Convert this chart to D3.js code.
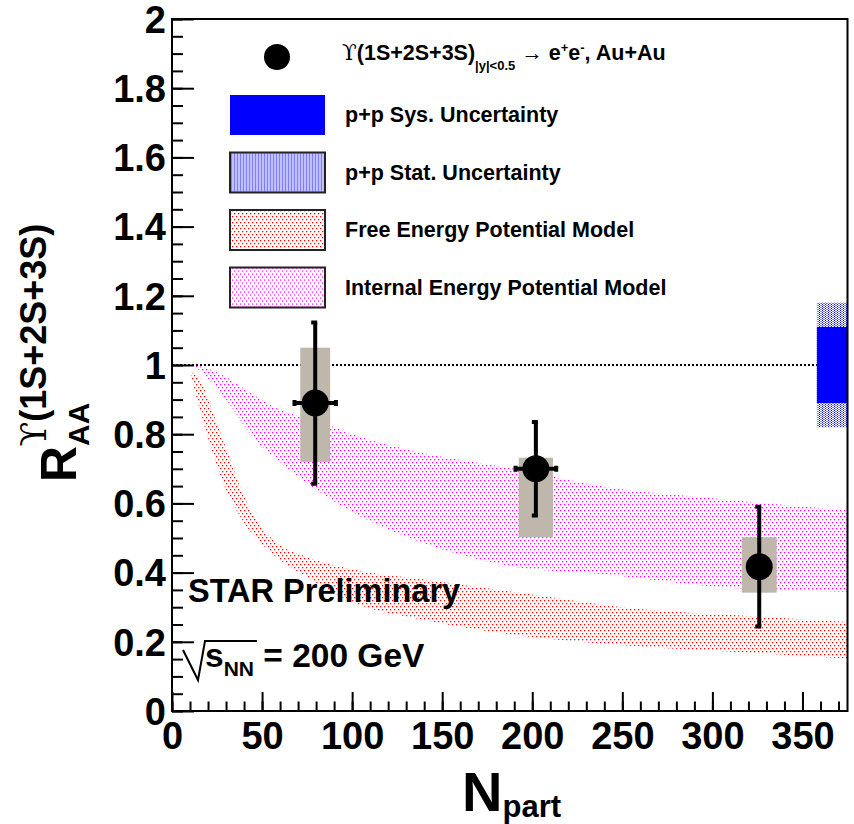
<!DOCTYPE html>
<html>
<head>
<meta charset="utf-8">
<script src="https://cdn.jsdelivr.net/npm/d3@7"></script>
<style>
	body { margin: 0; background: #fff; }
	svg { font-family: "Liberation Sans", Arial, sans-serif; font-weight: bold; }
	.ups { font-family: "DejaVu Serif", "DejaVu Sans", serif; font-weight: normal; }
</style>
</head>
<body>
<div id="chart"></div>
<script>
// data points (Npart, RAA) with stat and sys errors
const npart = [79.5, 202, 326];
const raa = [0.89, 0.70, 0.417];
const statErr = [0.233, 0.135, 0.173];
const sysUp = [0.16, 0.032, 0.085];
const sysDown = [0.17, 0.198, 0.075];
const npartErr = [11.5, 11.3, 6];
const boxHalf = [8.3, 9.5, 9.7];

// p+p normalisation uncertainties drawn at the right edge
const ppRange = [358, 375];
const ppSys = 0.11;
const ppStat = 0.18;

// model bands
const internalN = [12, 20, 30, 45, 60, 80, 100, 140, 190, 240, 300, 375];
const internalHi = [1.0, 0.99, 0.965, 0.915, 0.87, 0.84, 0.80, 0.745, 0.70, 0.648, 0.615, 0.58];
const internalLo = [1.0, 0.96, 0.90, 0.79, 0.72, 0.64, 0.575, 0.485, 0.417, 0.395, 0.36, 0.345];
const freeN = [10, 15, 20, 30, 40, 55, 75, 100, 140, 195, 250, 325, 375];
const freeHi = [0.98, 0.965, 0.90, 0.76, 0.62, 0.50, 0.445, 0.41, 0.38, 0.34, 0.30, 0.273, 0.257];
const freeLo = [0.98, 0.88, 0.79, 0.64, 0.545, 0.458, 0.387, 0.315, 0.263, 0.217, 0.19, 0.167, 0.152];

// axes
const xTicks = [0, 50, 100, 150, 200, 250, 300, 350];
const yTicks = [0, 0.2, 0.4, 0.6, 0.8, 1, 1.2, 1.4, 1.6, 1.8, 2];

const legendLabels = ["p+p Sys. Uncertainty", "p+p Stat. Uncertainty", "Free Energy Potential Model", "Internal Energy Potential Model"];
const legendFills = ["#0000ff", "url(#dotsBlue)", "url(#dotsRed)", "url(#dotsMagenta)"];

const W = 854, H = 824;
const margin = {top: 19, right: 6.5, bottom: 113, left: 172};

let svg = d3.select("#chart").append("svg")
	.attr("width", W)
	.attr("height", H);

let x = d3.scaleLinear([0, 375], [margin.left, W - margin.right]);
let y = d3.scaleLinear([0, 2], [H - margin.bottom, margin.top]);

// dotted fill patterns like ROOT fill styles
let defs = svg.append("defs");
function dots(id, color, w, h, s) {
	let p = defs.append("pattern")
		.attr("id", id)
		.attr("patternUnits", "userSpaceOnUse")
		.attr("width", w)
		.attr("height", h);
	p.append("rect").attr("x", 0).attr("y", 0).attr("width", s).attr("height", s).attr("fill", color);
	p.append("rect").attr("x", w / 2).attr("y", h / 2).attr("width", s).attr("height", s).attr("fill", color);
}
dots("dotsRed", "#ff0000", 4, 6, 1.3);
dots("dotsMagenta", "#ff00ff", 4, 6, 1.3);
dots("dotsBlue", "#0000ff", 3, 2, 1);

// model bands
let area = d3.area()
	.x(d => x(d[0]))
	.y0(d => y(d[1]))
	.y1(d => y(d[2]))
	.curve(d3.curveMonotoneX);
svg.append("path")
	.attr("fill", "url(#dotsMagenta)")
	.attr("d", area(internalN.map((n, i) => [n, internalLo[i], internalHi[i]])));
svg.append("path")
	.attr("fill", "url(#dotsRed)")
	.attr("d", area(freeN.map((n, i) => [n, freeLo[i], freeHi[i]])));

// unity line
svg.append("line")
	.attr("x1", x(0)).attr("x2", x(ppRange[0]))
	.attr("y1", y(1)).attr("y2", y(1))
	.attr("stroke", "black")
	.attr("stroke-width", 2)
	.attr("stroke-dasharray", "2,2");

// p+p boxes
svg.append("rect")
	.attr("x", x(ppRange[0])).attr("width", x(ppRange[1]) - x(ppRange[0]))
	.attr("y", y(1 + ppStat)).attr("height", y(1 - ppStat) - y(1 + ppStat))
	.attr("fill", "url(#dotsBlue)");
svg.append("rect")
	.attr("x", x(ppRange[0])).attr("width", x(ppRange[1]) - x(ppRange[0]))
	.attr("y", y(1 + ppSys)).attr("height", y(1 - ppSys) - y(1 + ppSys))
	.attr("fill", "#0000ff");

// systematic boxes
svg.append("g")
	.selectAll("rect")
	.data(npart)
	.join("rect")
	.attr("x", (d, i) => x(d - boxHalf[i]))
	.attr("width", (d, i) => x(d + boxHalf[i]) - x(d - boxHalf[i]))
	.attr("y", (d, i) => y(raa[i] + sysUp[i]))
	.attr("height", (d, i) => y(raa[i] - sysDown[i]) - y(raa[i] + sysUp[i]))
	.attr("fill", "#bfb7ab");

// error bars and markers
let pts = svg.append("g")
	.attr("stroke", "black")
	.attr("stroke-width", 4)
	.selectAll("g")
	.data(npart)
	.join("g");
pts.append("line")
	.attr("x1", d => x(d)).attr("x2", d => x(d))
	.attr("y1", (d, i) => y(raa[i] + statErr[i]))
	.attr("y2", (d, i) => y(raa[i] - statErr[i]));
pts.append("path")
	.attr("fill", "none")
	.attr("d", (d, i) => {
		let cx = x(d), t = y(raa[i] + statErr[i]), b = y(raa[i] - statErr[i]);
		return `M${cx - 4},${t}H${cx + 2}M${cx - 4},${b}H${cx + 2}`;
	});
pts.append("path")
	.attr("fill", "none")
	.attr("d", (d, i) => {
		let l = x(d - npartErr[i]), r = x(d + npartErr[i]), cy = y(raa[i]);
		return `M${l},${cy - 3}V${cy + 3}M${l},${cy}H${r}M${r},${cy - 3}V${cy + 3}`;
	});
pts.append("circle")
	.attr("cx", d => x(d))
	.attr("cy", (d, i) => y(raa[i]))
	.attr("r", 13.5)
	.attr("stroke", "none")
	.attr("fill", "black");

// axes: major and minor ticks point inwards
svg.append("g")
	.attr("transform", `translate(${margin.left},0)`)
	.call(d3.axisLeft(y).tickValues(d3.range(0, 2.001, 0.05)).tickSize(-11).tickFormat(""))
	.call(g => g.select(".domain").remove());
svg.append("g")
	.attr("transform", `translate(${margin.left},0)`)
	.call(d3.axisLeft(y).tickValues(yTicks).tickSize(-22).tickPadding(6).tickFormat(d3.format("~g")))
	.call(g => g.select(".domain").remove())
	.call(g => g.selectAll("text").attr("font-size", 38).attr("font-family", null).attr("fill", "black").attr("dy", "0.35em"));
svg.append("g")
	.attr("transform", `translate(0,${H - margin.bottom})`)
	.call(d3.axisBottom(x).tickValues(d3.range(0, 375, 10)).tickSize(-9.5).tickFormat(""))
	.call(g => g.select(".domain").remove());
svg.append("g")
	.attr("transform", `translate(0,${H - margin.bottom})`)
	.call(d3.axisBottom(x).tickValues(xTicks).tickSize(-19).tickPadding(11))
	.call(g => g.select(".domain").remove())
	.call(g => g.selectAll("text").attr("font-size", 38).attr("font-family", null).attr("fill", "black"));
svg.selectAll(".tick line").attr("stroke-width", 2);

// frame
svg.append("rect")
	.attr("x", margin.left).attr("y", margin.top)
	.attr("width", W - margin.right - margin.left)
	.attr("height", H - margin.bottom - margin.top)
	.attr("fill", "none")
	.attr("stroke", "black")
	.attr("stroke-width", 2);

// legend
let leg = svg.append("g");
leg.append("circle")
	.attr("cx", 277).attr("cy", 57).attr("r", 13);
let head = leg.append("text")
	.attr("x", 342).attr("y", 60)
	.attr("font-size", 21.5);
head.append("tspan").attr("class", "ups").text("ϒ");
head.append("tspan").text("(1S+2S+3S)");
head.append("tspan").attr("font-size", 13).attr("dy", 10).text("|y|<0.5");
head.append("tspan").attr("dy", -10).attr("font-weight", "normal").text(" → ");
head.append("tspan").text("e");
head.append("tspan").attr("font-size", 13).attr("dy", -8).text("+");
head.append("tspan").attr("dy", 8).text("e");
head.append("tspan").attr("font-size", 13).attr("dy", -8).text("-");
head.append("tspan").attr("dy", 8).text(", Au+Au");

let rows = leg.selectAll("g.row")
	.data(legendLabels)
	.join("g")
	.attr("class", "row")
	.attr("transform", (d, i) => `translate(0,${95 + i * 57.5})`);
rows.append("rect")
	.attr("x", 230).attr("y", 0)
	.attr("width", 95).attr("height", 40)
	.attr("fill", (d, i) => legendFills[i])
	.attr("stroke", (d, i) => i ? "#222" : "none")
	.attr("stroke-width", 2);
rows.append("text")
	.attr("x", 345).attr("y", 27)
	.attr("font-size", 21.5)
	.text(d => d);

// annotations
svg.append("text")
	.attr("x", 188).attr("y", 602)
	.attr("font-size", 32.5)
	.text("STAR Preliminary");
svg.append("path")
	.attr("fill", "none")
	.attr("stroke", "black")
	.attr("stroke-width", 2)
	.attr("d", "M183,650L198,680L205,641H257");
let snn = svg.append("text")
	.attr("x", 205).attr("y", 667)
	.attr("font-size", 33.5);
snn.append("tspan").text("s");
snn.append("tspan").attr("font-size", 21).attr("dy", 9).text("NN");
snn.append("tspan").attr("dy", -9).text(" = 200 GeV");

// axis titles
svg.append("text")
	.attr("x", 462).attr("y", 811)
	.attr("font-size", 56)
	.text("N")
	.append("tspan")
	.attr("font-size", 31)
	.attr("dy", 6)
	.text("part");
let yt = svg.append("text")
	.attr("transform", "translate(76,482) rotate(-90)")
	.attr("font-size", 50);
yt.append("tspan").text("R");
yt.append("tspan").attr("font-size", 30).attr("dy", 13).text("AA");
yt.append("tspan").attr("class", "ups").attr("font-size", 36).attr("dx", -44).attr("dy", -43).text("ϒ");
yt.append("tspan").attr("font-size", 36).text("(1S+2S+3S)");
</script>
</body>
</html>
